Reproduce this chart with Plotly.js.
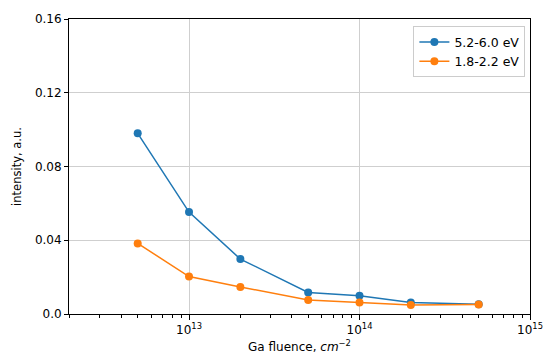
<!DOCTYPE html>
<html><head><meta charset="utf-8">
<script src="https://cdn.plot.ly/plotly-3.0.1.min.js"></script>
<style>html,body{margin:0;padding:0;background:#fff}#c{width:547px;height:356px}</style>
</head><body><div id="c"></div>
<script>
const fluence = [5e12, 1e13, 2e13, 5e13, 1e14, 2e14, 5e14];
const uvIntensity = [0.098, 0.0553, 0.0298, 0.0117, 0.0099, 0.0062, 0.0053];
const visIntensity = [0.0383, 0.0203, 0.0147, 0.0076, 0.0062, 0.0049, 0.0052];
const seriesNames = ['5.2-6.0 eV', '1.8-2.2 eV'];
const xTickVals = [1e13, 1e14, 1e15];
const xTickText = ['10<sup>13</sup>', '10<sup>14</sup>', '10<sup>15</sup>'];
const yTickVals = [0, 0.04, 0.08, 0.12, 0.16];
const yTickText = ['0.0', '0.04', '0.08', '0.12', '0.16'];

const minorVals = [];
for (const d of [1e12, 1e13, 1e14]) for (let k = 2; k <= 9; k++) minorVals.push(k * d);

const font = {family: 'DejaVu Sans, sans-serif', size: 12, color: '#000'};
const traces = [
  {x: fluence, y: uvIntensity, name: seriesNames[0], mode: 'lines+markers',
   line: {color: '#1f77b4', width: 1.5}, marker: {color: '#1f77b4', size: 8}},
  {x: fluence, y: visIntensity, name: seriesNames[1], mode: 'lines+markers',
   line: {color: '#ff7f0e', width: 1.5}, marker: {color: '#ff7f0e', size: 8}}
];
const layout = {
  width: 547, height: 356,
  margin: {l: 69, r: 17, t: 19, b: 42},
  paper_bgcolor: '#fff', plot_bgcolor: '#fff',
  font: font,
  showlegend: true,
  legend: {x: 0.99, y: 0.975, xanchor: 'right', yanchor: 'top',
    bgcolor: 'rgba(255,255,255,0.8)', bordercolor: '#ccc', borderwidth: 1,
    font: {family: 'DejaVu Sans, sans-serif', size: 12.5}, tracegroupgap: 2},
  xaxis: {type: 'log', range: [12.296, 15],
    tickmode: 'array', tickvals: xTickVals, ticktext: xTickText,
    ticks: 'outside', ticklen: 5, tickcolor: '#000',
    showgrid: true, gridcolor: '#cfcfcf', gridwidth: 1,
    showline: true, linecolor: '#000', linewidth: 1, mirror: true, zeroline: false,
    minor: {tickmode: 'array', tickvals: minorVals, ticks: 'outside', ticklen: 3, tickcolor: '#000', showgrid: false},
    title: {text: 'Ga fluence, <i>cm</i><sup>−2</sup>', font: {size: 12}, standoff: 6},
    tickfont: {size: 12}},
  yaxis: {range: [0, 0.16], tickmode: 'array', tickvals: yTickVals, ticktext: yTickText,
    ticks: 'outside', ticklen: 4, tickcolor: '#000',
    showgrid: true, gridcolor: '#cfcfcf', gridwidth: 1,
    showline: true, linecolor: '#000', linewidth: 1, mirror: true, zeroline: false,
    title: {text: 'intensity, a.u.', font: {size: 11.5}, standoff: 10},
    tickfont: {size: 12}}
};
Plotly.newPlot('c', traces, layout, {displayModeBar: false, staticPlot: true});
</script></body></html>
